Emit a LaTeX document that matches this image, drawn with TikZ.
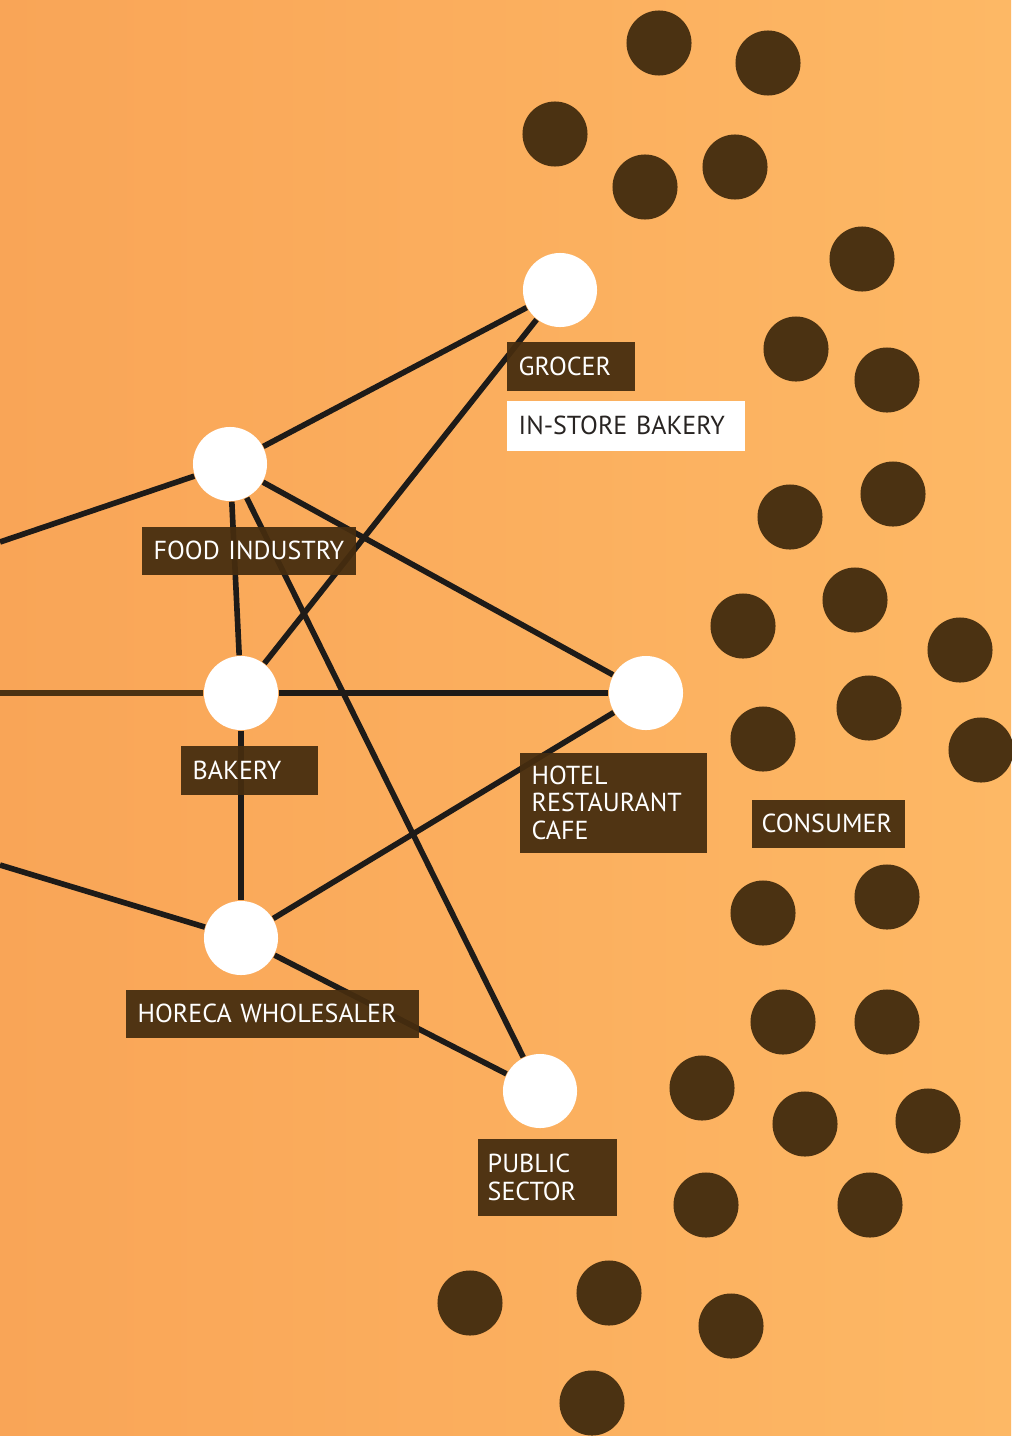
\documentclass[tikz,border=0pt]{standalone}
\usepackage{fontspec}
\setmainfont{PT Sans}
\definecolor{bgleft}{RGB}{249,165,87}
\definecolor{bgright}{RGB}{253,184,101}
\definecolor{choc}{RGB}{75,50,18}
\definecolor{tagfill}{RGB}{70,45,15}
\definecolor{wire}{RGB}{30,27,24}
\definecolor{ink}{RGB}{40,36,34}
\hyphenpenalty=10000
\exhyphenpenalty=10000

\begin{document}
\begin{tikzpicture}[x=0.01cm, y=-0.01cm,
    actor/.style={circle, fill=white, minimum size=0.74cm, inner sep=0pt},
    crumb/.style={circle, fill=choc, minimum size=0.65cm, inner sep=0pt},
    link/.style={draw=wire, line width=1.6pt},
    tag/.style={anchor=north west, fill=tagfill, fill opacity=0.94, text opacity=1, text=white,
      font=\fontsize{7.4}{7.8}\selectfont, align=left, inner xsep=0.12cm, inner ysep=0pt}
  ]
  \useasboundingbox (0,0) rectangle (1011,1436);
  \shade[left color=bgleft, right color=bgright] (0,0) rectangle (1011,1436);

  % consumers
  \foreach \x/\y [count=\i] in {659/43, 768/63, 555/134, 645/187, 735/167, 862/259,
      796/349, 887/380, 790/517, 893/494, 743/626, 855/600, 960/650, 763/739,
      869/708, 981/750, 763/913, 887/897, 783/1022, 887/1022, 702/1088, 805/1124,
      928/1121, 706/1205, 870/1205, 470/1303, 609/1293, 731/1326, 592/1403}
    \node[crumb] (crumb\i) at (\x,\y) {};

  % chain
  \node[actor] (grocer) at (560,290) {};
  \node[actor] (food) at (230,464) {};
  \node[actor] (bakery) at (241,693) {};
  \node[actor] (hotel) at (646,693) {};
  \node[actor] (horeca) at (241,938) {};
  \node[actor] (public) at (540,1091) {};

  \coordinate (inFood) at (0,542);
  \coordinate (inBake) at (0,693);
  \coordinate (inHoreca) at (0,865);

  \draw[link] (inFood) -- (food);
  \draw[link, draw=choc] (inBake) -- (bakery);
  \draw[link] (inHoreca) -- (horeca);
  \foreach \a/\b in {food/grocer, food/bakery, food/hotel, food/public, grocer/bakery,
      bakery/hotel, bakery/horeca, horeca/hotel, horeca/public}
    \draw[link] (\a) -- (\b);

  % labels
  \node[tag, text width=1.04cm, minimum height=0.49cm] (grocerTag) at (506,341) {GROCER};
  \node[tag, fill=white, fill opacity=1, text=ink, text width=2.14cm, minimum height=0.50cm]
    (storeTag) at (506,400) {IN-STORE~BAKERY};
  \node[tag, text width=1.90cm, minimum height=0.48cm] (foodTag) at (141,526) {FOOD~INDUSTRY};
  \node[tag, text width=1.13cm, minimum height=0.49cm] (bakeryTag) at (180,745) {BAKERY};
  \node[tag, text width=1.63cm, minimum height=1.00cm] (hotelTag) at (519,752) {HOTEL\\RESTAURANT\\CAFE};
  \node[tag, inner xsep=0.10cm, text width=1.33cm, minimum height=0.48cm] (consumerTag) at (751,799) {CONSUMER};
  \node[tag, text width=2.69cm, minimum height=0.48cm] (horecaTag) at (125,989) {HORECA~WHOLESALER};
  \node[tag, inner xsep=0.10cm, text width=1.19cm, minimum height=0.77cm] (publicTag) at (477,1138) {PUBLIC\\SECTOR};
\end{tikzpicture}
\end{document}
